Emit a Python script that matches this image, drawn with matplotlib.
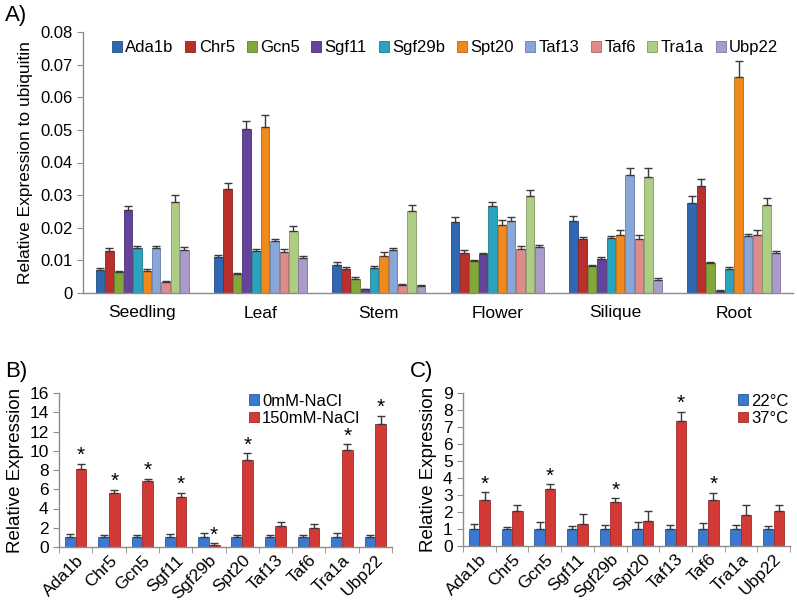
import matplotlib.pyplot as plt
import numpy as np

plt.rcParams["font.family"] = ["Liberation Sans", "DejaVu Sans"]

# ---------------- panel A data ----------------
tissues = ["Seedling", "Leaf", "Stem", "Flower", "Silique", "Root"]
genes = ["Ada1b", "Chr5", "Gcn5", "Sgf11", "Sgf29b", "Spt20", "Taf13", "Taf6", "Tra1a", "Ubp22"]
gene_colors = ["#2f68b0", "#b82f2c", "#82a83a", "#64449a", "#2aa3bf",
               "#f08a1c", "#88a6d8", "#de8c8b", "#adcc84", "#ab9bca"]

# expression per gene, one value per tissue
expr = {
    "Ada1b": [0.0071, 0.0110, 0.0087, 0.0217, 0.0222, 0.0276],
    "Chr5": [0.0130, 0.0318, 0.0073, 0.0124, 0.0165, 0.0328],
    "Gcn5": [0.0065, 0.0059, 0.0044, 0.0097, 0.0084, 0.0093],
    "Sgf11": [0.0255, 0.0503, 0.0012, 0.0120, 0.0103, 0.0007],
    "Sgf29b": [0.0138, 0.0128, 0.0076, 0.0267, 0.0170, 0.0073],
    "Spt20": [0.0068, 0.0508, 0.0114, 0.0209, 0.0179, 0.0663],
    "Taf13": [0.0138, 0.0158, 0.0131, 0.0222, 0.0362, 0.0176],
    "Taf6": [0.0034, 0.0125, 0.0026, 0.0136, 0.0165, 0.0179],
    "Tra1a": [0.0280, 0.0191, 0.0250, 0.0296, 0.0357, 0.0271],
    "Ubp22": [0.0133, 0.0106, 0.0022, 0.0140, 0.0041, 0.0122],
}
expr_err = {
    "Ada1b": [0.0007, 0.0007, 0.0008, 0.0015, 0.0015, 0.0020],
    "Chr5": [0.0008, 0.0018, 0.0008, 0.0008, 0.0008, 0.0020],
    "Gcn5": [0.0003, 0.0003, 0.0004, 0.0004, 0.0002, 0.0002],
    "Sgf11": [0.0012, 0.0023, 0.0001, 0.0004, 0.0006, 0.0001],
    "Sgf29b": [0.0007, 0.0006, 0.0006, 0.0012, 0.0006, 0.0006],
    "Spt20": [0.0006, 0.0037, 0.0011, 0.0014, 0.0013, 0.0048],
    "Taf13": [0.0007, 0.0008, 0.0007, 0.0012, 0.0020, 0.0006],
    "Taf6": [0.0003, 0.0010, 0.0003, 0.0008, 0.0012, 0.0013],
    "Tra1a": [0.0019, 0.0013, 0.0020, 0.0020, 0.0025, 0.0020],
    "Ubp22": [0.0007, 0.0008, 0.0004, 0.0006, 0.0004, 0.0008],
}

# ---------------- panel B / C data ----------------
nacl_labels = ["0mM-NaCl", "150mM-NaCl"]
nacl_ctrl = [1, 1, 1, 1, 1, 1, 1, 1, 1, 1]
nacl_ctrl_err = [0.35, 0.2, 0.25, 0.35, 0.45, 0.2, 0.2, 0.25, 0.45, 0.2]
nacl_treat = [8.1, 5.6, 6.9, 5.15, 0.25, 9.05, 2.15, 1.97, 10.04, 12.8]
nacl_treat_err = [0.55, 0.35, 0.2, 0.5, 0.15, 0.7, 0.4, 0.4, 0.66, 0.85]
nacl_star = [1, 1, 1, 1, 1, 1, 0, 0, 1, 1]

heat_labels = ["22°C", "37°C"]
heat_ctrl = [1, 1, 1, 1, 1, 1, 1, 1, 1, 1]
heat_ctrl_err = [0.28, 0.12, 0.42, 0.18, 0.25, 0.42, 0.25, 0.33, 0.25, 0.18]
heat_treat = [2.7, 2.05, 3.37, 1.28, 2.56, 1.48, 7.38, 2.7, 1.81, 2.05]
heat_treat_err = [0.47, 0.38, 0.27, 0.58, 0.27, 0.6, 0.53, 0.43, 0.63, 0.39]
heat_star = [1, 0, 1, 0, 1, 0, 1, 1, 0, 0]

pair_colors = ["#3b78cf", "#d23a35"]
axis_gray = "#8c8c8c"
err_col = "#3a3a3a"

W, H = 797, 606
fig = plt.figure(figsize=(W / 100, H / 100), dpi=100)


def px_axes(x0, y0, x1, y1):
    # pixel box (left, top, right, bottom) -> figure axes
    return fig.add_axes([x0 / W, 1 - y1 / H, (x1 - x0) / W, (y1 - y0) / H])


def style_axes(ax, ysize):
    for s in ["top", "right"]:
        ax.spines[s].set_visible(False)
    for s in ["left", "bottom"]:
        ax.spines[s].set_color(axis_gray)
        ax.spines[s].set_linewidth(1.0)
    ax.tick_params(axis="y", colors=axis_gray, labelcolor="black", length=4,
                   labelsize=ysize)


def edge_of(c):
    rgb = np.array(plt.matplotlib.colors.to_rgb(c)) * 0.75
    return rgb


# ---------------- A ----------------
axA = px_axes(83, 32, 793, 293)
style_axes(axA, 12)
n = len(genes)
bw = 0.079
x = np.arange(len(tissues))
for i, g in enumerate(genes):
    pos = x + (i - (n - 1) / 2) * bw
    axA.bar(pos, expr[g], bw * 0.92, color=gene_colors[i], edgecolor=edge_of(gene_colors[i]),
            linewidth=0.6, label=g, zorder=2)
    axA.errorbar(pos, expr[g], yerr=[np.zeros(len(tissues)), expr_err[g]], fmt="none",
                 ecolor=err_col, elinewidth=1, capsize=3, capthick=1, zorder=3)
axA.set_xlim(-0.5, len(tissues) - 0.5)
axA.set_ylim(0, 0.08)
axA.set_yticks(np.arange(0, 0.081, 0.01))
axA.set_yticklabels(["0"] + ["%.2f" % v for v in np.arange(0.01, 0.081, 0.01)])
axA.set_xticks(x)
axA.set_xticklabels(tissues, fontsize=12.5)
axA.tick_params(axis="x", length=0, pad=9)
axA.set_ylabel("Relative Expression to ubiquitin", fontsize=12.5, labelpad=5)
axA.legend(loc="upper center", bbox_to_anchor=(0.51, 1.025), ncol=10, frameon=False,
           fontsize=12, handlelength=0.6, handleheight=0.6, handletextpad=0.2,
           columnspacing=0.7)
fig.text(5 / W, 1 - 16 / H, "A)", fontsize=16, va="center")


def pair_panel(box, ctrl, ctrl_err, treat, treat_err, stars, labels, ymax, yticks,
               legend_anchor):
    ax = px_axes(*box)
    style_axes(ax, 12.5)
    xs = np.arange(len(genes))
    bw2 = 0.32
    ax.bar(xs - bw2 / 2, ctrl, bw2, color=pair_colors[0], edgecolor=edge_of(pair_colors[0]),
           linewidth=0.6, label=labels[0], zorder=2)
    ax.bar(xs + bw2 / 2, treat, bw2, color=pair_colors[1], edgecolor=edge_of(pair_colors[1]),
           linewidth=0.6, label=labels[1], zorder=2)
    ax.errorbar(xs - bw2 / 2, ctrl, yerr=[np.zeros(len(xs)), ctrl_err], fmt="none",
                ecolor=err_col, elinewidth=1, capsize=3, capthick=1, zorder=3)
    ax.errorbar(xs + bw2 / 2, treat, yerr=[np.zeros(len(xs)), treat_err], fmt="none",
                ecolor=err_col, elinewidth=1, capsize=3, capthick=1, zorder=3)
    for k in range(len(xs)):
        if stars[k]:
            ax.text(xs[k] + bw2 / 2, treat[k] + treat_err[k] - ymax * 0.01, "*",
                    ha="center", va="bottom", fontsize=15)
    ax.set_xlim(-0.5, len(xs) - 0.5)
    ax.set_ylim(0, ymax)
    ax.set_yticks(yticks)
    ax.set_xticks(xs)
    ax.set_xticklabels(genes, rotation=45, ha="right", rotation_mode="anchor", fontsize=12.5)
    ax.set_xticks(np.arange(-0.5, len(xs), 1), minor=True)
    ax.tick_params(axis="x", which="major", length=0, pad=4)
    ax.tick_params(axis="x", which="minor", length=4, colors=axis_gray)
    ax.set_ylabel("Relative Expression", fontsize=13.5, labelpad=4)
    ax.legend(loc="upper left", bbox_to_anchor=legend_anchor, frameon=False, fontsize=12,
              handlelength=0.6, handleheight=0.6, handletextpad=0.2, labelspacing=0.15,
              borderaxespad=0)
    return ax


pair_panel((59, 393, 392, 547), nacl_ctrl, nacl_ctrl_err, nacl_treat, nacl_treat_err,
           nacl_star, nacl_labels, 16, np.arange(0, 17, 2), (0.55, 1.04))
fig.text(5 / W, 1 - 371 / H, "B)", fontsize=16, va="center")

pair_panel((463, 393, 790, 546), heat_ctrl, heat_ctrl_err, heat_treat, heat_treat_err,
           heat_star, heat_labels, 9, np.arange(0, 10, 1), (0.82, 1.04))
fig.text(410 / W, 1 - 371 / H, "C)", fontsize=16, va="center")

fig.savefig("out.png", dpi=100)
